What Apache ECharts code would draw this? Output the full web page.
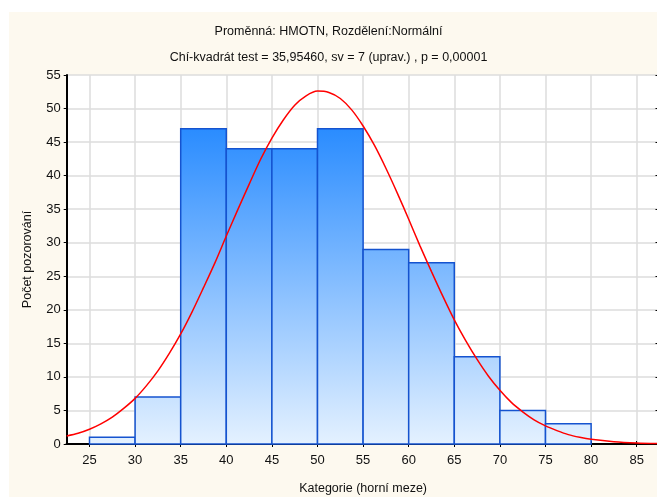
<!DOCTYPE html>
<html><head><meta charset="utf-8">
<script src="https://cdn.jsdelivr.net/npm/echarts@6/dist/echarts.min.js"></script>
<style>html,body{margin:0;padding:0;background:#fff}#c{width:657px;height:497px}</style>
</head><body><div id="c"></div>
<script>
// Histogram bins (upper bounds as category limits)
const binLow  = [25, 30, 35, 40, 45, 50, 55, 60, 65, 70, 75];
const binHigh = [30, 35, 40, 45, 50, 55, 60, 65, 70, 75, 80];
const counts  = [1, 7, 47, 44, 44, 47, 29, 27, 13, 5, 3];
// Fitted normal curve
const curveX = [22.5, 23.75, 25, 26.25, 27.5, 28.75, 30, 31.25, 32.5, 33.75, 35, 36.25, 37.5, 38.75, 40, 41.25, 42.5, 43.75, 45, 46.25, 47.5, 48.75, 50, 51.25, 52.5, 53.75, 55, 56.25, 57.5, 58.75, 60, 61.25, 62.5, 63.75, 65, 66.25, 67.5, 68.75, 70, 71.25, 72.5, 73.75, 75, 76.25, 77.5, 78.75, 80, 82.5, 85, 87.5];
const curveY = [1.2, 1.6, 2.2, 3.0, 4.0, 5.3, 6.8, 8.7, 10.9, 13.5, 16.4, 19.7, 23.3, 27.0, 31.0, 34.9, 38.7, 42.4, 45.6, 48.3, 50.5, 51.9, 52.6, 52.4, 51.5, 49.8, 47.4, 44.5, 41.1, 37.4, 33.5, 29.5, 25.7, 22.0, 18.5, 15.4, 12.6, 10.1, 8.0, 6.2, 4.8, 3.6, 2.7, 2.0, 1.4, 1.0, 0.7, 0.34, 0.15, 0.06];
const xTicks = [25, 30, 35, 40, 45, 50, 55, 60, 65, 70, 75, 80, 85];
const titleText = 'Proměnná: HMOTN, Rozdělení:Normální';
const subText = 'Chí-kvadrát test = 35,95460, sv = 7 (uprav.) , p = 0,00001';
const xName = 'Kategorie (horní meze)';
const yName = 'Počet pozorování';

const FONT = 'Liberation Sans, Arial, sans-serif';
const chart = echarts.init(document.getElementById('c'), null, {renderer: 'canvas'});
const barData = binLow.map((l, i) => [l, binHigh[i], counts[i]]);
const maxCount = Math.max.apply(null, counts);

chart.setOption({
  backgroundColor: '#ffffff',
  animation: false,
  graphic: [{type: 'rect', z: -10, shape: {x: 9, y: 12, width: 660, height: 500}, style: {fill: '#fdf9ef'}}],
  title: [
    {text: titleText, left: 'center', top: 20, textStyle: {fontFamily: FONT, fontSize: 12.5, fontWeight: 'normal', color: '#111'}},
    {text: subText, left: 'center', top: 46, textStyle: {fontFamily: FONT, fontSize: 12.5, fontWeight: 'normal', color: '#111'}}
  ],
  grid: {left: 66.7, top: 75, right: -2.5, bottom: 53, outerBoundsMode: 'none', containLabel: false,
    backgroundColor: '#ffffff', show: true, borderWidth: 0},
  xAxis: [{
    type: 'value', min: 22.5, max: 87.5,
    name: xName, nameLocation: 'middle', nameGap: 38,
    nameTextStyle: {fontFamily: FONT, fontSize: 12.5, color: '#111'},
    axisLine: {show: true, lineStyle: {color: '#000', width: 2}},
    axisTick: {show: true, inside: true, length: 3, customValues: xTicks, lineStyle: {color: '#000'}},
    axisLabel: {customValues: xTicks, fontFamily: FONT, fontSize: 13, color: '#111', margin: 10},
    splitLine: {show: true, lineStyle: {color: '#dcdcdc', width: 1.5}}
  }, {
    type: 'value', min: 22.5, max: 87.5, position: 'top',
    axisLine: {show: true, lineStyle: {color: '#000', width: 2}},
    axisTick: {show: true, inside: true, length: 3, customValues: xTicks, lineStyle: {color: '#000'}},
    axisLabel: {show: false, customValues: xTicks},
    splitLine: {show: false}
  }],
  yAxis: [{
    type: 'value', min: 0, max: 55, interval: 5,
    name: yName, nameLocation: 'middle', nameGap: 33, nameRotate: 90,
    nameTextStyle: {fontFamily: FONT, fontSize: 12.5, color: '#111'},
    axisLine: {show: true, lineStyle: {color: '#000', width: 2}},
    axisTick: {show: true, inside: false, length: 3, lineStyle: {color: '#000'}},
    axisLabel: {fontFamily: FONT, fontSize: 13, color: '#111', margin: 6},
    splitLine: {show: true, lineStyle: {color: '#dcdcdc', width: 1.5}}
  }, {
    type: 'value', min: 0, max: 55, interval: 5, position: 'right',
    axisLine: {show: true, lineStyle: {color: '#000', width: 2}},
    axisTick: {show: true, inside: true, length: 4, lineStyle: {color: '#000'}},
    axisLabel: {show: false},
    splitLine: {show: false}
  }],
  series: [{
    type: 'custom',
    xAxisIndex: 0, yAxisIndex: 0,
    data: barData,
    renderItem: function (params, api) {
      const p0 = api.coord([api.value(0), 0]);
      const p1 = api.coord([api.value(1), api.value(2)]);
      const gTop = api.coord([0, maxCount])[1];
      const gBot = api.coord([0, 0])[1];
      return {
        type: 'rect',
        shape: {x: p0[0], y: p1[1], width: p1[0] - p0[0], height: p0[1] - p1[1]},
        style: {
          fill: {type: 'linear', x: 0, y: gTop, x2: 0, y2: gBot, global: true,
            colorStops: [{offset: 0, color: '#2a8cff'}, {offset: 1, color: '#e4f1ff'}]},
          stroke: '#1553cf', lineWidth: 1.5
        }
      };
    },
    z: 2
  }, {
    type: 'line',
    xAxisIndex: 0, yAxisIndex: 0,
    data: curveX.map((x, i) => [x, curveY[i]]),
    smooth: 0.3, symbol: 'none', clip: true,
    lineStyle: {color: '#ff0000', width: 1.5},
    z: 3
  }]
});
</script></body></html>
